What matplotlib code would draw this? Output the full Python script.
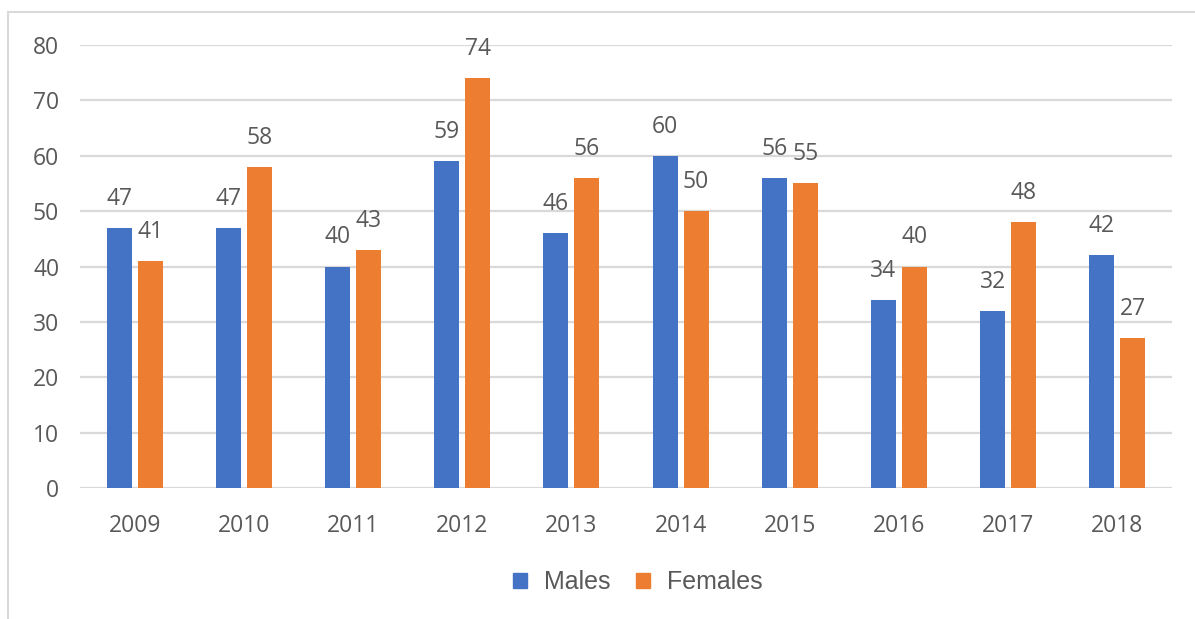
import numpy as np
import matplotlib.pyplot as plt
from matplotlib.patches import Rectangle, Patch

# data
years = ['2009', '2010', '2011', '2012', '2013', '2014', '2015', '2016', '2017', '2018']
males = [47, 47, 40, 59, 46, 60, 56, 34, 32, 42]
females = [41, 58, 43, 74, 56, 50, 55, 40, 48, 27]

blue = '#4472C4'
orange = '#ED7D31'
txt = '#595959'
grid = '#D9D9D9'

W, H = 1195, 619
fig = plt.figure(figsize=(W / 100, H / 100), dpi=100)
ax = fig.add_axes([80 / W, (H - 488) / H, (1172 - 80) / W, (488 - 45) / H])

x = np.arange(len(years))
bw = 0.23
off = 0.142
b1 = ax.bar(x - off, males, bw, color=blue, zorder=3)
b2 = ax.bar(x + off, females, bw, color=orange, zorder=3)

for bars, vals in ((b1, males), (b2, females)):
    for b, v in zip(bars, vals):
        ax.annotate(str(v), (b.get_x() + b.get_width() / 2, v),
                    xytext=(0, 21), textcoords='offset points',
                    ha='center', va='center', fontsize=16.5,
                    color=txt, family='Open Sans')

ax.set_xlim(-0.5, len(years) - 0.5)
ax.set_ylim(0, 80)
ax.set_yticks(range(0, 81, 10))
ax.set_xticks(x)
ax.set_xticklabels(years)
ax.yaxis.grid(True, color=grid, linewidth=1.6, zorder=0)
ax.tick_params(length=0, labelsize=16.5, labelcolor=txt)
ax.tick_params(axis='y', pad=15)
ax.tick_params(axis='x', pad=19)
for lab in ax.get_xticklabels() + ax.get_yticklabels():
    lab.set_family('Open Sans')
for s in ax.spines.values():
    s.set_visible(False)

handles = [Patch(color=blue, label='Males'), Patch(color=orange, label='Females')]
fig.legend(handles=handles, loc='center', bbox_to_anchor=(638 / W, (H - 582) / H),
           ncol=2, frameon=False, labelcolor=txt,
           handlelength=0.55, handleheight=0.55, handletextpad=0.7, columnspacing=1.0,
           prop={'family': 'Liberation Sans', 'size': 18})

# light chart-area border (cropped on right/bottom)
fig.add_artist(Rectangle((8 / W, -0.1), 1.2, (H - 12) / H + 0.1, transform=fig.transFigure,
                         fill=False, edgecolor='#D9D9D9', linewidth=1.5))

fig.savefig('out.png', dpi=100, facecolor='white')
